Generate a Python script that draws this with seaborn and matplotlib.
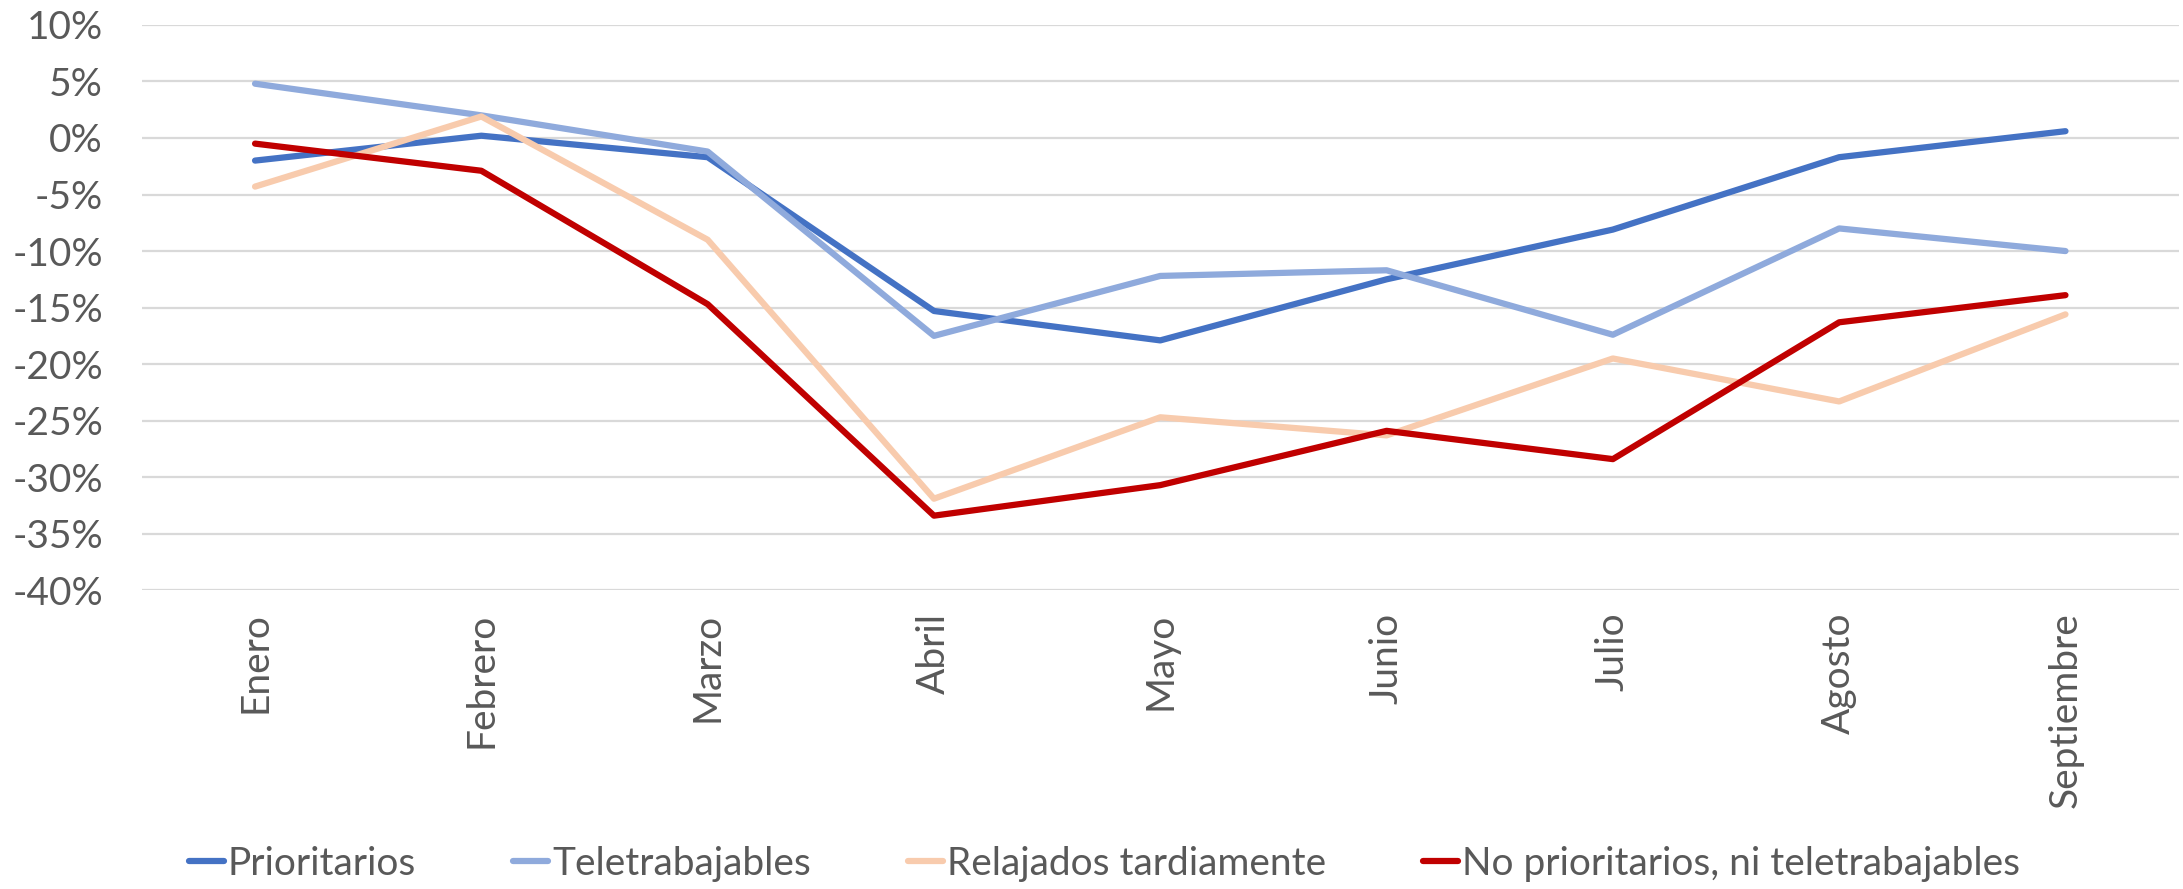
"""
Variación mensual por grupo de sectores (Enero - Septiembre)
"""

import pandas as pd
import matplotlib.pyplot as plt
import seaborn as sns
from matplotlib.ticker import FuncFormatter, MultipleLocator

meses = ["Enero", "Febrero", "Marzo", "Abril", "Mayo", "Junio",
         "Julio", "Agosto", "Septiembre"]

# variación (%)
prioritarios = [-2.0, 0.2, -1.7, -15.3, -17.9, -12.5, -8.1, -1.7, 0.6]
teletrabajables = [4.8, 2.0, -1.2, -17.5, -12.2, -11.7, -17.4, -8.0, -10.0]
relajados = [-4.3, 1.9, -9.0, -31.9, -24.7, -26.3, -19.5, -23.3, -15.6]
no_prioritarios = [-0.5, -2.9, -14.7, -33.4, -30.7, -25.9, -28.4, -16.3, -13.9]

series = {
    "Prioritarios": prioritarios,
    "Teletrabajables": teletrabajables,
    "Relajados tardiamente": relajados,
    "No prioritarios, ni teletrabajables": no_prioritarios,
}
colores = ["#4472C4", "#8FAADC", "#F8CBAD", "#C00000"]


def build_frame():
    rows = []
    for nombre, valores in series.items():
        for mes, v in zip(meses, valores):
            rows.append({"mes": mes, "grupo": nombre, "valor": v})
    return pd.DataFrame(rows)


def main():
    sns.set_style("white")
    plt.rcParams["font.family"] = ["Lato", "DejaVu Sans"]
    text_color = "#595959"

    df = build_frame()
    fig, ax = plt.subplots(figsize=(21.83, 8.89), dpi=100)
    fig.subplots_adjust(left=0.065, right=0.998, top=0.972, bottom=0.336)

    sns.lineplot(data=df, x="mes", y="valor", hue="grupo",
                 palette=colores, linewidth=4.5, sort=False, ax=ax,
                 solid_capstyle="round")

    ax.set_xlim(-0.5, len(meses) - 0.5)
    ax.set_ylim(-40, 10)
    ax.yaxis.set_major_locator(MultipleLocator(5))
    ax.yaxis.set_major_formatter(FuncFormatter(lambda v, p: f"{v:.0f}%"))
    ax.grid(axis="y", color="#D9D9D9", linewidth=1.6)
    ax.set_axisbelow(True)
    for s in ax.spines.values():
        s.set_visible(False)
    ax.set_xlabel("")
    ax.set_ylabel("")
    ax.tick_params(axis="y", length=0, pad=28, labelsize=28, labelcolor=text_color)
    ax.tick_params(axis="x", length=0, pad=16, labelsize=28, labelcolor=text_color,
                   labelrotation=90)

    handles, labels = ax.get_legend_handles_labels()
    ax.legend_.remove()
    fig.legend(handles, labels, loc="center", bbox_to_anchor=(0.506, 0.028),
               ncol=4, frameon=False, fontsize=28, handlelength=0.9,
               handletextpad=0.1, columnspacing=2.5, labelcolor=text_color)

    plt.savefig("out.png", dpi=100)
    plt.close()


if __name__ == "__main__":
    main()
